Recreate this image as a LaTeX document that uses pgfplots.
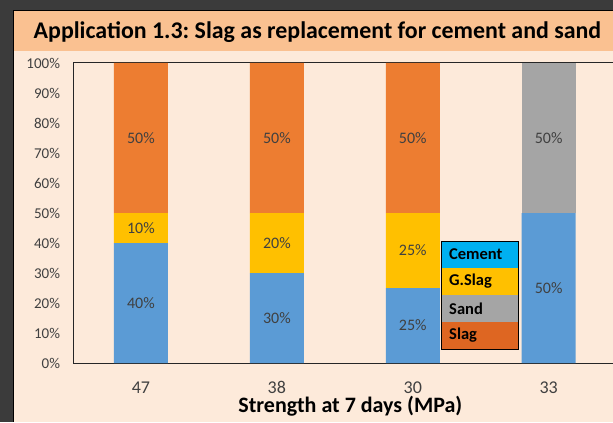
\documentclass[border=0pt]{standalone}
\usepackage{pgfplots}
\pgfplotsset{compat=1.18}
\usepackage{fontspec}
\setmainfont{Carlito}
\definecolor{darkbg}{HTML}{3B3B3B}
\definecolor{titlebar}{HTML}{FAC191}
\definecolor{peach}{HTML}{FDEADA}
\definecolor{cBlue}{HTML}{5B9BD5}
\definecolor{cYellow}{HTML}{FFC000}
\definecolor{cGray}{HTML}{A5A5A5}
\definecolor{cOrange}{HTML}{ED7D31}
\definecolor{lgCyan}{HTML}{00B0F0}
\definecolor{lgOrange}{HTML}{DE6622}
\definecolor{txt}{HTML}{404040}
\begin{document}
\frenchspacing
\begin{tikzpicture}[x=1bp,y=1bp]
\path[use as bounding box] (0,0) rectangle (613,422);
\fill[darkbg] (0,0) rectangle (613,422);
\begin{scope}
\clip (0,0) rectangle (613,422);
\fill[black] (12.8,0) rectangle (613,412);
\fill[peach] (14.3,0) rectangle (613,371);
\fill[titlebar] (14.3,371) rectangle (613,410.8);
\node[anchor=base west, inner sep=0pt, font=\fontsize{23.9bp}{28bp}\selectfont\bfseries, text=black] at (33.5,383.7) {Application 1.3: Slag as replacement for cement and sand};
\begin{axis}[
  at={(73bp,59bp)}, anchor=south west,
  scale only axis, width=543.6bp, height=300bp,
  ybar stacked, bar width=54bp,
  xmin=-0.5, xmax=3.5, ymin=0, ymax=100,
  xtick={0,1,2,3}, xticklabels={47,38,30,33},
  ytick={0,10,...,100},
  yticklabel={\pgfmathprintnumber{\tick}\%},
  /pgf/number format/assume math mode=true,
  axis line style={draw=black!85, line width=1bp},
  tick style={draw=none},
  ticklabel style={font=\fontsize{15bp}{18bp}\selectfont, text=txt},
  xticklabel style={anchor=base, yshift=-30.3bp, font=\fontsize{18bp}{21bp}\selectfont},
  yticklabel style={xshift=-9.5bp},
  xlabel={Strength at 7 days (MPa)},
  xlabel style={at={(axis description cs:0.5,0)}, anchor=base, yshift=-49.7bp, xshift=5.5bp, font=\fontsize{22bp}{25bp}\selectfont\bfseries, text=black},
  nodes near coords={\pgfmathfloatifflags{\pgfplotspointmeta}{0}{}{\pgfmathprintnumber{\pgfplotspointmeta}\%}},
  every node near coord/.append style={anchor=center, font=\fontsize{16bp}{19bp}\selectfont, text=txt},
]
\addplot[fill=cBlue, draw=none] coordinates {(0,40) (1,30) (2,25) (3,50)};
\addplot[fill=cYellow, draw=none] coordinates {(0,10) (1,20) (2,25) (3,0)};
\addplot[fill=cGray, draw=none] coordinates {(0,0) (1,0) (2,0) (3,50)};
\addplot[fill=cOrange, draw=none] coordinates {(0,50) (1,50) (2,50) (3,0)};
\end{axis}
\begin{scope}[every node/.style={anchor=north west, minimum width=77bp, minimum height=27bp, inner sep=0pt, outer sep=0pt}]
\node[fill=lgCyan] at (441,181) {};
\node[fill=cYellow] at (441,154) {};
\node[fill=cGray] at (441,127) {};
\node[fill=lgOrange] at (441,100) {};
\end{scope}
\draw[black, line width=1bp] (441,73) rectangle (518,181);
\begin{scope}[every node/.style={anchor=west, inner sep=0pt, font=\fontsize{16.5bp}{19bp}\selectfont\bfseries, text=black}]
\node at (449,167.5) {Cement};
\node at (449,140.5) {G.Slag};
\node at (449,113.5) {Sand};
\node at (449,86.5) {Slag};
\end{scope}
\end{scope}
\end{tikzpicture}
\end{document}
